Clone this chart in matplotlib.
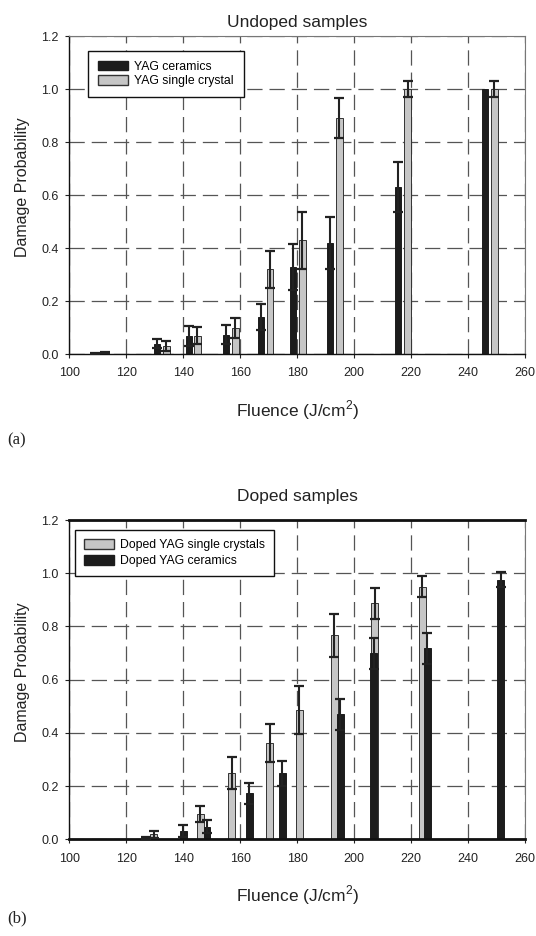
import matplotlib
matplotlib.use('Agg')
import matplotlib.pyplot as plt
import numpy as np
from matplotlib.patches import Patch

plt.rcParams['font.family'] = ['Liberation Sans', 'DejaVu Sans']
plt.rcParams['mathtext.fontset'] = 'custom'
plt.rcParams['mathtext.rm'] = 'Liberation Sans'
plt.rcParams['lines.scale_dashes'] = False

# ---------------- data ----------------
fluence_ticks = [100, 120, 140, 160, 180, 200, 220, 240, 260]
prob_ticks = [0.0, 0.2, 0.4, 0.6, 0.8, 1.0, 1.2]

# (a) undoped samples
undoped_ceramics_x = [109.1, 130.8, 141.9, 154.9, 167.3, 178.5, 191.5, 215.4, 245.9]
undoped_ceramics_p = [0.003, 0.040, 0.068, 0.073, 0.140, 0.330, 0.420, 0.630, 1.000]
undoped_ceramics_err = [0.002, 0.017, 0.037, 0.036, 0.050, 0.087, 0.097, 0.094, 0.0]

undoped_crystal_x = [112.6, 134.1, 145.0, 158.3, 170.5, 181.8, 194.8, 218.8, 249.2]
undoped_crystal_p = [0.006, 0.030, 0.070, 0.098, 0.320, 0.430, 0.890, 1.000, 1.000]
undoped_crystal_err = [0.003, 0.019, 0.031, 0.038, 0.070, 0.108, 0.075, 0.030, 0.030]

# (b) doped samples
doped_crystal_x = [126.8, 129.7, 146.0, 157.1, 170.4, 180.7, 193.0, 207.3, 223.9]
doped_crystal_p = [0.006, 0.019, 0.094, 0.250, 0.361, 0.485, 0.767, 0.887, 0.949]
doped_crystal_err = [0.003, 0.014, 0.030, 0.060, 0.071, 0.090, 0.080, 0.059, 0.040]

doped_ceramics_x = [140.0, 148.4, 163.2, 174.8, 195.2, 206.9, 225.7, 251.4]
doped_ceramics_p = [0.030, 0.048, 0.173, 0.248, 0.470, 0.699, 0.718, 0.976]
doped_ceramics_err = [0.022, 0.025, 0.040, 0.047, 0.058, 0.059, 0.058, 0.027]

# ---------------- styles ----------------
BLACK = '#1c1c1c'
GRAY = '#c6c6c6'
EDGE = '#333333'
ERR = '#222222'

fig = plt.figure(figsize=(5.36, 9.36), dpi=100)
ax1 = fig.add_axes([0.1293, 0.6215, 0.8502, 0.3400])
ax2 = fig.add_axes([0.1293, 0.1033, 0.8502, 0.3411])


def style_axes(ax, title, title_pad, thick_frame):
    ax.set_xlim(100, 260)
    ax.set_ylim(0, 1.2)
    ax.set_xticks(fluence_ticks)
    ax.set_yticks(prob_ticks)
    ax.set_yticklabels([f'{v:.1f}' for v in prob_ticks])
    ax.grid(True, color='#555555', linewidth=0.9, linestyle=(0, (11, 5)))
    ax.set_axisbelow(True)
    ax.tick_params(axis='both', direction='out', length=3, width=0.8,
                   colors='#222222', labelsize=9)
    ax.tick_params(axis='x', pad=6.5)
    ax.tick_params(axis='y', pad=4.5)
    for s in ('left', 'bottom'):
        ax.spines[s].set_color('#111111')
        ax.spines[s].set_linewidth(1.0)
    for s in ('top', 'right'):
        ax.spines[s].set_color('#777777')
        ax.spines[s].set_linewidth(0.8)
    if thick_frame:
        ax.spines['top'].set_color('#111111')
        ax.spines['top'].set_linewidth(2.0)
        ax.spines['bottom'].set_linewidth(2.0)
    ax.set_title(title, fontsize=12.5, pad=title_pad, color='#222222')
    ax.set_xlabel('Fluence (J/cm$^{2}$)', fontsize=12.5, color='#222222')
    ax.xaxis.set_label_coords(0.5, -0.138)
    ax.set_ylabel('Damage Probability', fontsize=11.5, color='#222222')
    ax.yaxis.set_label_coords(-0.087, 0.524)


def draw_series(ax, x, p, err, width, face, edge):
    ax.bar(x, p, width=width, color=face, edgecolor=edge, linewidth=0.7, zorder=2)


def draw_err(ax, x, p, err):
    x = np.asarray(x); p = np.asarray(p); err = np.asarray(err)
    m = err > 0
    ax.errorbar(x[m], p[m], yerr=err[m], fmt='none', ecolor=ERR,
                elinewidth=1.5, capsize=3.3, capthick=1.6, zorder=3)


# (a)
style_axes(ax1, 'Undoped samples', 6.5, False)
draw_series(ax1, undoped_ceramics_x, undoped_ceramics_p, undoped_ceramics_err, 2.1, BLACK, BLACK)
draw_series(ax1, undoped_crystal_x, undoped_crystal_p, undoped_crystal_err, 2.3, GRAY, EDGE)
draw_err(ax1, undoped_ceramics_x, undoped_ceramics_p, undoped_ceramics_err)
draw_err(ax1, undoped_crystal_x, undoped_crystal_p, undoped_crystal_err)
h1 = [Patch(facecolor=BLACK, edgecolor=BLACK), Patch(facecolor=GRAY, edgecolor=EDGE)]
leg1 = ax1.legend(h1, ['YAG ceramics', 'YAG single crystal'], loc='upper left',
                  bbox_to_anchor=(0.041, 0.953), borderaxespad=0, fancybox=False,
                  edgecolor='#111111', framealpha=1, fontsize=8.8,
                  handlelength=2.5, handleheight=0.8, labelspacing=0.2,
                  borderpad=0.8, handletextpad=0.5)
leg1.get_frame().set_linewidth(1.0)

# (b)
style_axes(ax2, 'Doped samples', 14, True)
draw_series(ax2, doped_crystal_x, doped_crystal_p, doped_crystal_err, 2.5, GRAY, EDGE)
draw_series(ax2, doped_ceramics_x, doped_ceramics_p, doped_ceramics_err, 2.3, BLACK, BLACK)
draw_err(ax2, doped_crystal_x, doped_crystal_p, doped_crystal_err)
draw_err(ax2, doped_ceramics_x, doped_ceramics_p, doped_ceramics_err)
h2 = [Patch(facecolor=GRAY, edgecolor=EDGE), Patch(facecolor=BLACK, edgecolor=BLACK)]
leg2 = ax2.legend(h2, ['Doped YAG single crystals', 'Doped YAG ceramics'], loc='upper left',
                  bbox_to_anchor=(0.0125, 0.969), borderaxespad=0, fancybox=False,
                  edgecolor='#111111', framealpha=1, fontsize=8.8,
                  handlelength=2.4, handleheight=0.8, labelspacing=0.33,
                  borderpad=0.75, handletextpad=0.55)
leg2.get_frame().set_linewidth(1.0)

fig.text(7 / 536, 1 - 440 / 936, '(a)', family=['Liberation Serif', 'DejaVu Serif'],
         fontsize=12, ha='left', va='center', color='#222222')
fig.text(7 / 536, 1 - 918 / 936, '(b)', family=['Liberation Serif', 'DejaVu Serif'],
         fontsize=12, ha='left', va='center', color='#222222')

fig.savefig('out.png', dpi=100)
